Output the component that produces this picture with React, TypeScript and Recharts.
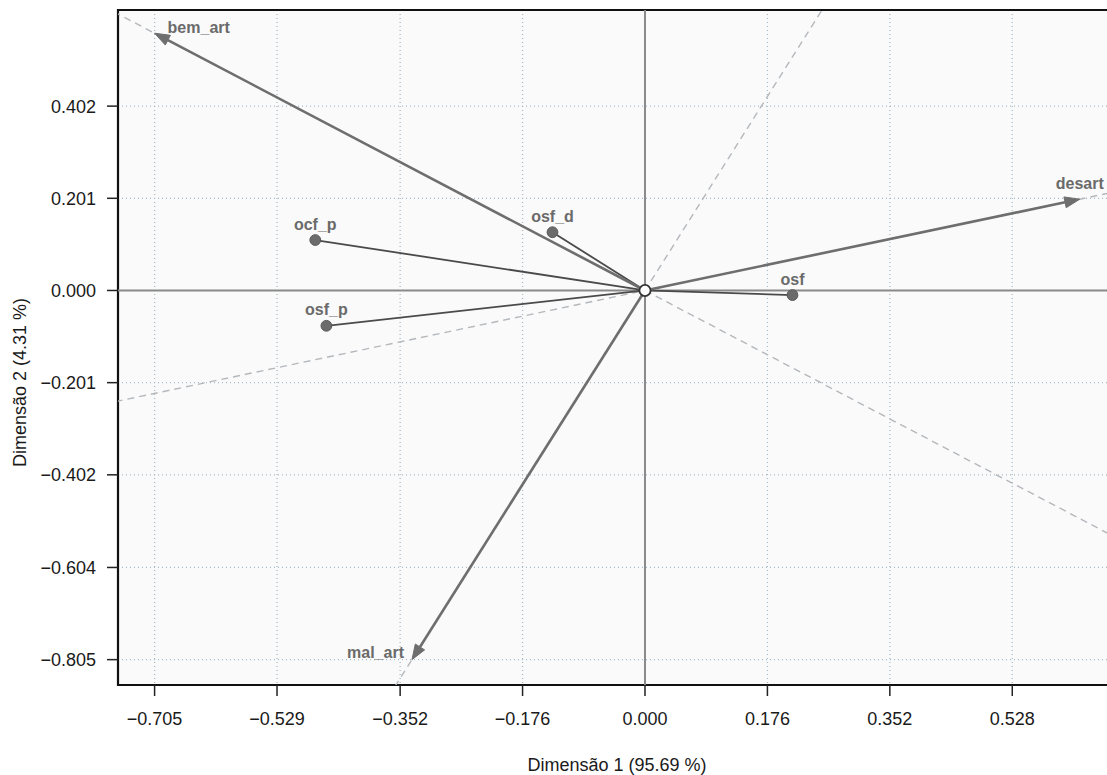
import React from 'react';
import {
  ScatterChart,
  Scatter,
  XAxis,
  YAxis,
  CartesianGrid,
  ReferenceLine,
  ReferenceArea,
  Label,
} from 'recharts';

// ---- data ----
const activeNames = ['bem_art', 'desart', 'mal_art'];
const activeX = [-0.705, 0.625, -0.335];
const activeY = [0.561, 0.199, -0.805];

const supNames = ['ocf_p', 'osf_p', 'osf_d', 'osf'];
const supX = [-0.474, -0.458, -0.133, 0.212];
const supY = [0.11, -0.077, 0.127, -0.01];

const xTicks = [-0.705, -0.529, -0.352, -0.176, 0, 0.176, 0.352, 0.528];
const yTicks = [-0.805, -0.604, -0.402, -0.201, 0, 0.201, 0.402];

const xTitle = 'Dimensão 1 (95.69 %)';
const yTitle = 'Dimensão 2 (4.31 %)';

// ---- layout / style ----
const X_DOMAIN: [number, number] = [-0.7576, 0.6685];
const Y_DOMAIN: [number, number] = [-0.8603, 0.6116];
const FONT = '"Liberation Sans", Arial, Helvetica, sans-serif';
const ARROW_COLOR = '#6e6e6e';
const SUP_LINE = '#4a4a4a';
const LABEL_COLOR = '#6a6a6a';

const labelPlacement: Record<string, { dx: number; dy: number; anchor: 'start' | 'middle' | 'end' }> = {
  bem_art: { dx: 13, dy: -6, anchor: 'start' },
  desart: { dx: 0, dy: -16, anchor: 'middle' },
  mal_art: { dx: -8, dy: -7, anchor: 'end' },
  ocf_p: { dx: 0, dy: -16, anchor: 'middle' },
  osf_p: { dx: 0, dy: -16, anchor: 'middle' },
  osf_d: { dx: 0, dy: -16, anchor: 'middle' },
  osf: { dx: 0, dy: -16, anchor: 'middle' },
};

const activeData = activeNames.map((name, i) => ({ name, x: activeX[i], y: activeY[i] }));
const supData = supNames.map((name, i) => ({ name, x: supX[i], y: supY[i] }));
const originData = [{ name: 'origin', x: 0, y: 0 }];

const fmt = (v: number) => (v < 0 ? '\u2212' : '') + Math.abs(v).toFixed(3);

const makeArrowShape = (name: string) => (props: any) => {
  const { x1, y1, x2, y2 } = props;
  const ang = Math.atan2(y2 - y1, x2 - x1);
  const L = 15;
  const W = 5.5;
  const bx = x2 - L * Math.cos(ang);
  const by = y2 - L * Math.sin(ang);
  const px = -Math.sin(ang) * W;
  const py = Math.cos(ang) * W;
  const p = labelPlacement[name];
  return (
    <g>
      <line x1={x1} y1={y1} x2={bx} y2={by} stroke={ARROW_COLOR} strokeWidth={2.6} />
      <polygon
        points={`${x2},${y2} ${bx + px},${by + py} ${bx - px},${by - py}`}
        fill={ARROW_COLOR}
        stroke={ARROW_COLOR}
        strokeWidth={1}
        strokeLinejoin="round"
      />
      <text
        x={x2 + p.dx}
        y={y2 + p.dy}
        dy="0.35em"
        textAnchor={p.anchor}
        fontFamily={FONT}
        fontWeight="bold"
        fontSize={16}
        fill={LABEL_COLOR}
      >
        {name}
      </text>
    </g>
  );
};

const SupPoint = (props: any) => {
  const { cx, cy, payload } = props;
  const p = labelPlacement[payload.name];
  return (
    <g>
      <circle cx={cx} cy={cy} r={5.4} fill="#6b6b6b" stroke="#5a5a5a" strokeWidth={1} />
      <text
        x={cx + p.dx}
        y={cy + p.dy}
        dy="0.35em"
        textAnchor={p.anchor}
        fontFamily={FONT}
        fontWeight="bold"
        fontSize={16}
        fill={LABEL_COLOR}
      >
        {payload.name}
      </text>
    </g>
  );
};

const OriginPoint = (props: any) => {
  const { cx, cy } = props;
  return <circle cx={cx} cy={cy} r={5.6} fill="#ffffff" stroke="#333333" strokeWidth={1.8} />;
};

const XTitle = (props: any) => {
  const vb = props.viewBox;
  return (
    <text
      x={vb.x + vb.width / 2 + 3}
      y={vb.y + 86}
      textAnchor="middle"
      fontFamily={FONT}
      fontSize={18}
      fill="#1a1a1a"
    >
      {xTitle}
    </text>
  );
};

const YTitle = (props: any) => {
  const vb = props.viewBox;
  const cx = vb.x + 26;
  const cy = vb.y + vb.height / 2 + 35;
  return (
    <text
      x={cx}
      y={cy}
      transform={`rotate(-90, ${cx}, ${cy})`}
      textAnchor="middle"
      fontFamily={FONT}
      fontSize={18}
      fill="#1a1a1a"
    >
      {yTitle}
    </text>
  );
};

export default function App() {
  const big = 4;
  return (
    <div
      style={{
        position: 'absolute',
        left: 0,
        top: 0,
        width: 1107,
        height: 775,
        overflow: 'hidden',
        background: '#ffffff',
      }}
    >
      <ScatterChart
        width={1110}
        height={775}
        margin={{ top: 10, right: 0, bottom: 0, left: 0 }}
        style={{ fontFamily: FONT }}
      >
        <CartesianGrid
          stroke="#a7bccb"
          strokeDasharray="1 3"
          strokeWidth={1.3}
          fill="#fafafa"
        />
        <XAxis
          type="number"
          dataKey="x"
          domain={X_DOMAIN}
          allowDataOverflow
          ticks={xTicks}
          tickFormatter={fmt}
          interval={0}
          height={90}
          axisLine={false}
          tickSize={11}
          tickMargin={16}
          tickLine={{ stroke: '#222222', strokeWidth: 1.5 }}
          tick={{ fontSize: 18, fill: '#1a1a1a', fontFamily: FONT }}
          label={<Label content={XTitle} />}
        />
        <YAxis
          type="number"
          dataKey="y"
          domain={Y_DOMAIN}
          allowDataOverflow
          ticks={yTicks}
          tickFormatter={fmt}
          interval={0}
          width={118}
          axisLine={false}
          tickSize={11}
          tickMargin={11}
          tickLine={{ stroke: '#222222', strokeWidth: 1.5 }}
          tick={{ fontSize: 18, fill: '#1a1a1a', fontFamily: FONT }}
          label={<Label content={YTitle} />}
        />
        <ReferenceLine x={0} stroke="#8a8a8a" strokeWidth={2} />
        <ReferenceLine y={0} stroke="#8a8a8a" strokeWidth={2} />
        {activeData.map((d) => (
          <ReferenceLine
            key={'ext-' + d.name}
            segment={[
              { x: -big * d.x, y: -big * d.y },
              { x: big * d.x, y: big * d.y },
            ]}
            ifOverflow="hidden"
            stroke="#b4b8bc"
            strokeWidth={1.4}
            strokeDasharray="7 5"
          />
        ))}
        {supData.map((d) => (
          <ReferenceLine
            key={'sup-' + d.name}
            segment={[
              { x: 0, y: 0 },
              { x: d.x, y: d.y },
            ]}
            ifOverflow="visible"
            stroke={SUP_LINE}
            strokeWidth={1.8}
          />
        ))}
        {activeData.map((d) => (
          <ReferenceLine
            key={'arr-' + d.name}
            segment={[
              { x: 0, y: 0 },
              { x: d.x, y: d.y },
            ]}
            ifOverflow="visible"
            shape={makeArrowShape(d.name)}
          />
        ))}
        <ReferenceArea
          x1={X_DOMAIN[0]}
          x2={X_DOMAIN[1]}
          y1={Y_DOMAIN[0]}
          y2={Y_DOMAIN[1]}
          ifOverflow="visible"
          fill="none"
          fillOpacity={0}
          stroke="#111111"
          strokeWidth={2.2}
        />
        <Scatter data={supData} shape={SupPoint} isAnimationActive={false} />
        <Scatter data={originData} shape={OriginPoint} isAnimationActive={false} />
      </ScatterChart>
    </div>
  );
}
